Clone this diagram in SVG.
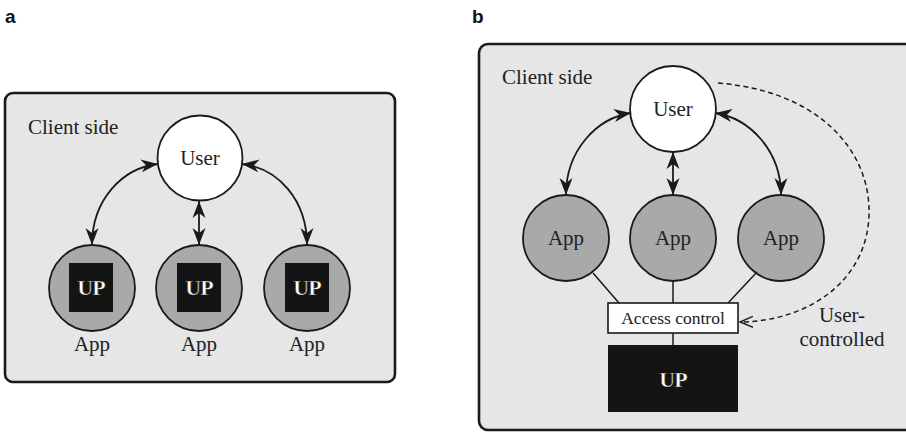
<svg xmlns="http://www.w3.org/2000/svg" width="906" height="433" viewBox="0 0 906 433">
  <style>
    .panel { fill: #e6e6e6; stroke: #1a1a1a; stroke-width: 2.6; }
    .tag { font-family: "Liberation Sans", Arial, sans-serif; font-weight: bold; font-size: 19px; fill: #111; }
    .lbl { font-family: "Liberation Serif", "Times New Roman", serif; font-size: 21px; fill: #222; }
    .small { font-family: "Liberation Serif", "Times New Roman", serif; font-size: 17.5px; fill: #222; text-anchor: middle; }
    .mid { text-anchor: middle; }
    .user { fill: #ffffff; stroke: #1a1a1a; stroke-width: 1.8; }
    .app { fill: #a9a9a9; stroke: #1a1a1a; stroke-width: 1.8; }
    .upbox { fill: #141414; }
    .uptext { font-family: "Liberation Serif", "Times New Roman", serif; font-weight: bold; font-size: 22px; fill: #ffffff; stroke: #141414; stroke-width: 0.5; text-anchor: middle; letter-spacing: -1px; }
    .acc { fill: #ffffff; stroke: #1a1a1a; stroke-width: 1.6; }
    .arrow { fill: none; stroke: #1a1a1a; stroke-width: 1.8; marker-start: url(#head); marker-end: url(#head); }
    .link { fill: none; stroke: #1a1a1a; stroke-width: 1.5; }
    .dash { fill: none; stroke: #1a1a1a; stroke-width: 1.5; stroke-dasharray: 5 3.5; marker-end: url(#open); }
  </style>
  <defs>
    <!-- stealth-style filled head, used at both ends of the two-way arrows -->
    <marker id="head" markerUnits="userSpaceOnUse" markerWidth="18" markerHeight="14" refX="17" refY="7" orient="auto-start-reverse" viewBox="0 0 18 14">
      <path d="M0,0.5 L17,7 L0,13.5 L5,7 Z" fill="#1a1a1a"/>
    </marker>
    <!-- open V head for the dashed user-controlled link -->
    <marker id="open" markerUnits="userSpaceOnUse" markerWidth="15" markerHeight="14" refX="13" refY="7" orient="auto" viewBox="0 0 15 14">
      <path d="M0,1.5 L13,7 L0,12.5" fill="none" stroke="#1a1a1a" stroke-width="1.4"/>
    </marker>
  </defs>

  <!-- panel a -->
  <text class="tag" x="5" y="23">a</text>
  <rect class="panel" x="5" y="93" width="390" height="289" rx="8"/>
  <text class="lbl" x="28" y="134">Client side</text>

  <g id="a-user">
    <circle class="user" cx="200" cy="158" r="42.5"/>
    <text class="lbl mid" x="200" y="165">User</text>
  </g>
  <g id="a-app1">
    <circle class="app" cx="92" cy="288" r="43"/>
    <rect class="upbox" x="69" y="263" width="44" height="49"/>
    <text class="uptext" x="91" y="295">UP</text>
    <text class="lbl mid" x="92" y="351">App</text>
  </g>
  <g id="a-app2">
    <circle class="app" cx="199" cy="288" r="43"/>
    <rect class="upbox" x="177" y="263" width="44" height="49"/>
    <text class="uptext" x="199" y="295">UP</text>
    <text class="lbl mid" x="199" y="351">App</text>
  </g>
  <g id="a-app3">
    <circle class="app" cx="307" cy="288" r="43"/>
    <rect class="upbox" x="285" y="263" width="44" height="49"/>
    <text class="uptext" x="307" y="295">UP</text>
    <text class="lbl mid" x="307" y="351">App</text>
  </g>
  <g id="a-connectors">
    <path class="arrow" d="M158,164 C122,168 92,200 92,245"/>
    <path class="arrow" d="M199,201 L199,245"/>
    <path class="arrow" d="M242,164 C278,168 307,200 307,245"/>
  </g>

  <!-- panel b -->
  <text class="tag" x="472" y="23">b</text>
  <rect class="panel" x="479" y="44" width="440" height="386" rx="9"/>
  <text class="lbl" x="502" y="84">Client side</text>

  <g id="b-user">
    <circle class="user" cx="673" cy="109" r="43"/>
    <text class="lbl mid" x="673" y="116">User</text>
  </g>
  <g id="b-app1">
    <circle class="app" cx="566" cy="238" r="43"/>
    <text class="lbl mid" x="566" y="245">App</text>
  </g>
  <g id="b-app2">
    <circle class="app" cx="673" cy="238" r="43"/>
    <text class="lbl mid" x="673" y="245">App</text>
  </g>
  <g id="b-app3">
    <circle class="app" cx="781" cy="238" r="43"/>
    <text class="lbl mid" x="781" y="245">App</text>
  </g>
  <g id="b-access">
    <rect class="acc" x="608" y="303" width="130" height="30"/>
    <text class="small" x="673" y="324">Access control</text>
  </g>
  <g id="b-up">
    <rect class="upbox" x="608" y="345" width="130" height="67"/>
    <text class="uptext" x="673" y="387">UP</text>
  </g>
  <g id="b-note">
    <text class="lbl mid" x="842" y="322">User-</text>
    <text class="lbl mid" x="842" y="346">controlled</text>
  </g>
  <g id="b-connectors">
    <path class="arrow" d="M631,113 C597,118 566,150 566,195"/>
    <path class="arrow" d="M673,152 L673,195"/>
    <path class="arrow" d="M715,113 C749,118 781,150 781,195"/>
    <path class="link" d="M593,273 L619,303"/>
    <path class="link" d="M673,281 L673,303"/>
    <path class="link" d="M757,272 L728,303"/>
    <path class="link" d="M673,333 L673,345"/>
    <path class="dash" d="M718,83 C818,91 871,150 869,215 C867,280 810,321 740,322"/>
  </g>
</svg>
